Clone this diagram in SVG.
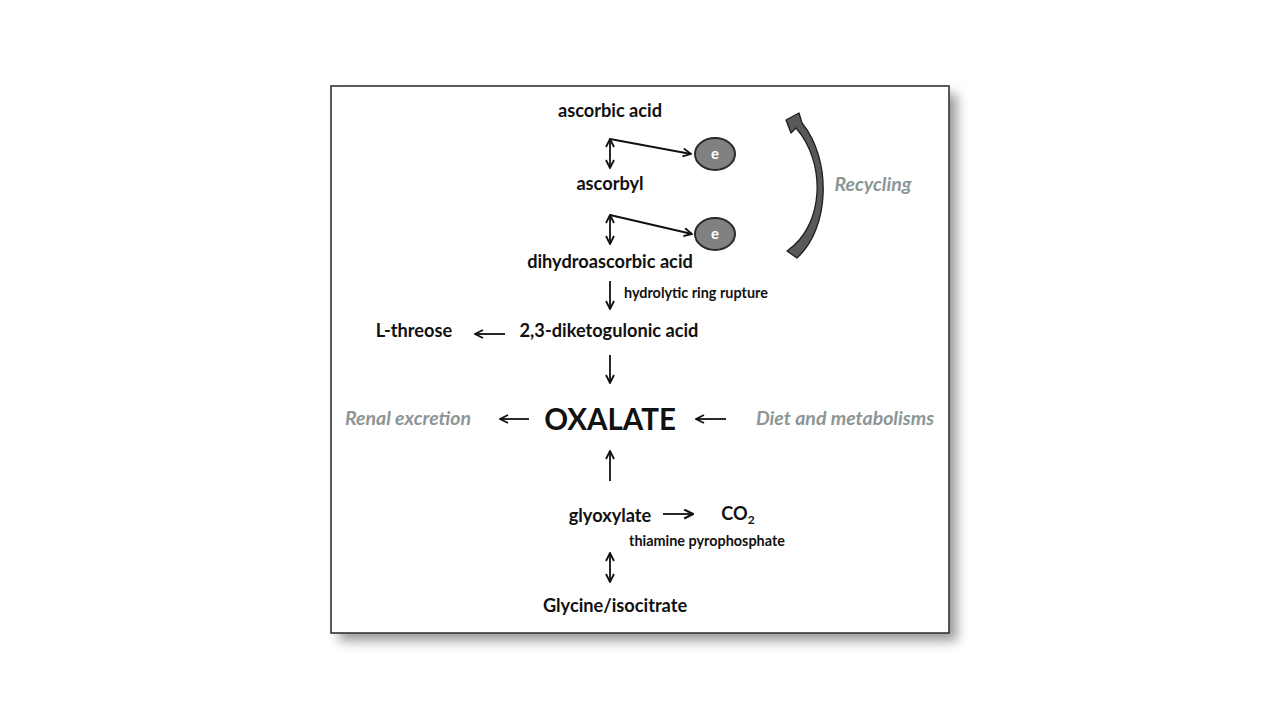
<svg xmlns="http://www.w3.org/2000/svg" width="1280" height="720" viewBox="0 0 1280 720">
<defs>
<filter id="sh" x="-10%" y="-10%" width="125%" height="125%">
<feGaussianBlur stdDeviation="6"/>
</filter>
<marker id="ah" viewBox="0 0 10 10" refX="9" refY="5" markerWidth="10" markerHeight="10" markerUnits="userSpaceOnUse" orient="auto-start-reverse">
<path d="M1,1 L9,5 L1,9" fill="none" stroke="#111" stroke-width="1.8" stroke-linejoin="miter"/>
</marker>
<marker id="ah2" viewBox="0 0 10 10" refX="9" refY="5" markerWidth="11" markerHeight="11" markerUnits="userSpaceOnUse" orient="auto">
<path d="M1,1 L9,5 L1,9" fill="none" stroke="#111" stroke-width="2" stroke-linejoin="miter"/>
</marker>
<style>
.t{font-family:Lato,"Open Sans","Liberation Sans",sans-serif;font-weight:bold;fill:#111;text-anchor:middle}
.s{font-size:18.2px}
.m{font-size:14.4px}
.g{font-family:Lato,"Open Sans","Liberation Sans",sans-serif;font-weight:bold;font-style:italic;fill:#8c9696;font-size:19.5px;text-anchor:middle}
.c{fill:none;stroke:#111;stroke-width:1.8}
.e{fill:#818181;stroke:#2a2a2a;stroke-width:2}
.et{font-family:Lato,"Open Sans","Liberation Sans",sans-serif;font-weight:bold;fill:#fff;font-size:15px;text-anchor:middle}
</style>
</defs>
<rect width="1280" height="720" fill="#fff"/>
<rect x="339" y="94" width="618" height="547" fill="#9a9a9a" filter="url(#sh)"/>
<rect x="331" y="86" width="618" height="547" fill="#fff" stroke="#333" stroke-width="1.6"/>

<g id="connectors">
<line class="c" x1="610" y1="139" x2="610" y2="168" marker-start="url(#ah)" marker-end="url(#ah)"/>
<line class="c" x1="610" y1="139" x2="691" y2="154" marker-end="url(#ah)"/>
<line class="c" x1="610" y1="215" x2="610" y2="244" marker-start="url(#ah)" marker-end="url(#ah)"/>
<line class="c" x1="610" y1="215" x2="692" y2="234" marker-end="url(#ah)"/>
<line class="c" x1="610" y1="281" x2="610" y2="309" marker-end="url(#ah)"/>
<line class="c" x1="505" y1="334" x2="475" y2="334" marker-end="url(#ah)"/>
<line class="c" x1="610" y1="355" x2="610" y2="383" marker-end="url(#ah)"/>
<line class="c" x1="529" y1="419" x2="500" y2="419" marker-end="url(#ah)"/>
<line class="c" x1="726" y1="419" x2="696" y2="419" marker-end="url(#ah)"/>
<line class="c" x1="610" y1="481" x2="610" y2="451" marker-end="url(#ah)"/>
<line class="c" x1="663" y1="514" x2="693" y2="514" stroke-width="2.2" marker-end="url(#ah2)"/>
<line class="c" x1="610" y1="553" x2="610" y2="582" marker-start="url(#ah)" marker-end="url(#ah)"/>
<path id="recycle" d="M787,251 L797,258 C830,228 832,160 802,123 L799,113 L786,120 L791,133 L796,128 C826,162 825,225 787,251 Z" fill="#595959" stroke="#1e1e1e" stroke-width="1.3" stroke-linejoin="round"/>
</g>

<g id="n-ascorbic"><text class="t s" x="610" y="117">ascorbic acid</text></g>
<g id="e1"><ellipse class="e" cx="715" cy="154" rx="20" ry="16"/><text class="et" x="715" y="159">e</text></g>
<g id="n-ascorbyl"><text class="t s" x="610" y="190">ascorbyl</text></g>
<g id="e2"><ellipse class="e" cx="715" cy="234" rx="20" ry="16"/><text class="et" x="715" y="239">e</text></g>
<g id="n-dha"><text class="t s" x="610" y="268">dihydroascorbic acid</text></g>
<g id="l-hydro"><text class="t m" x="624" y="298" style="text-anchor:start">hydrolytic ring rupture</text></g>
<g id="n-dkg"><text class="t s" x="609" y="337">2,3-diketogulonic acid</text></g>
<g id="n-threose"><text class="t s" x="414" y="337">L-threose</text></g>
<g id="n-oxalate"><text class="t" x="610" y="430" style="font-size:29.5px">OXALATE</text></g>
<g id="n-renal"><text class="g" x="408" y="425">Renal excretion</text></g>
<g id="n-diet"><text class="g" x="845" y="425">Diet and metabolisms</text></g>
<g id="n-recycling"><text class="g" x="873" y="191">Recycling</text></g>
<g id="n-glyox"><text class="t s" x="610" y="522">glyoxylate</text></g>
<g id="n-co2"><text class="t s" x="738" y="520">CO<tspan font-size="12" dy="4">2</tspan></text></g>
<g id="l-thiamine"><text class="t m" x="707" y="546">thiamine pyrophosphate</text></g>
<g id="n-glycine"><text class="t s" x="615" y="612">Glycine/isocitrate</text></g>
</svg>
